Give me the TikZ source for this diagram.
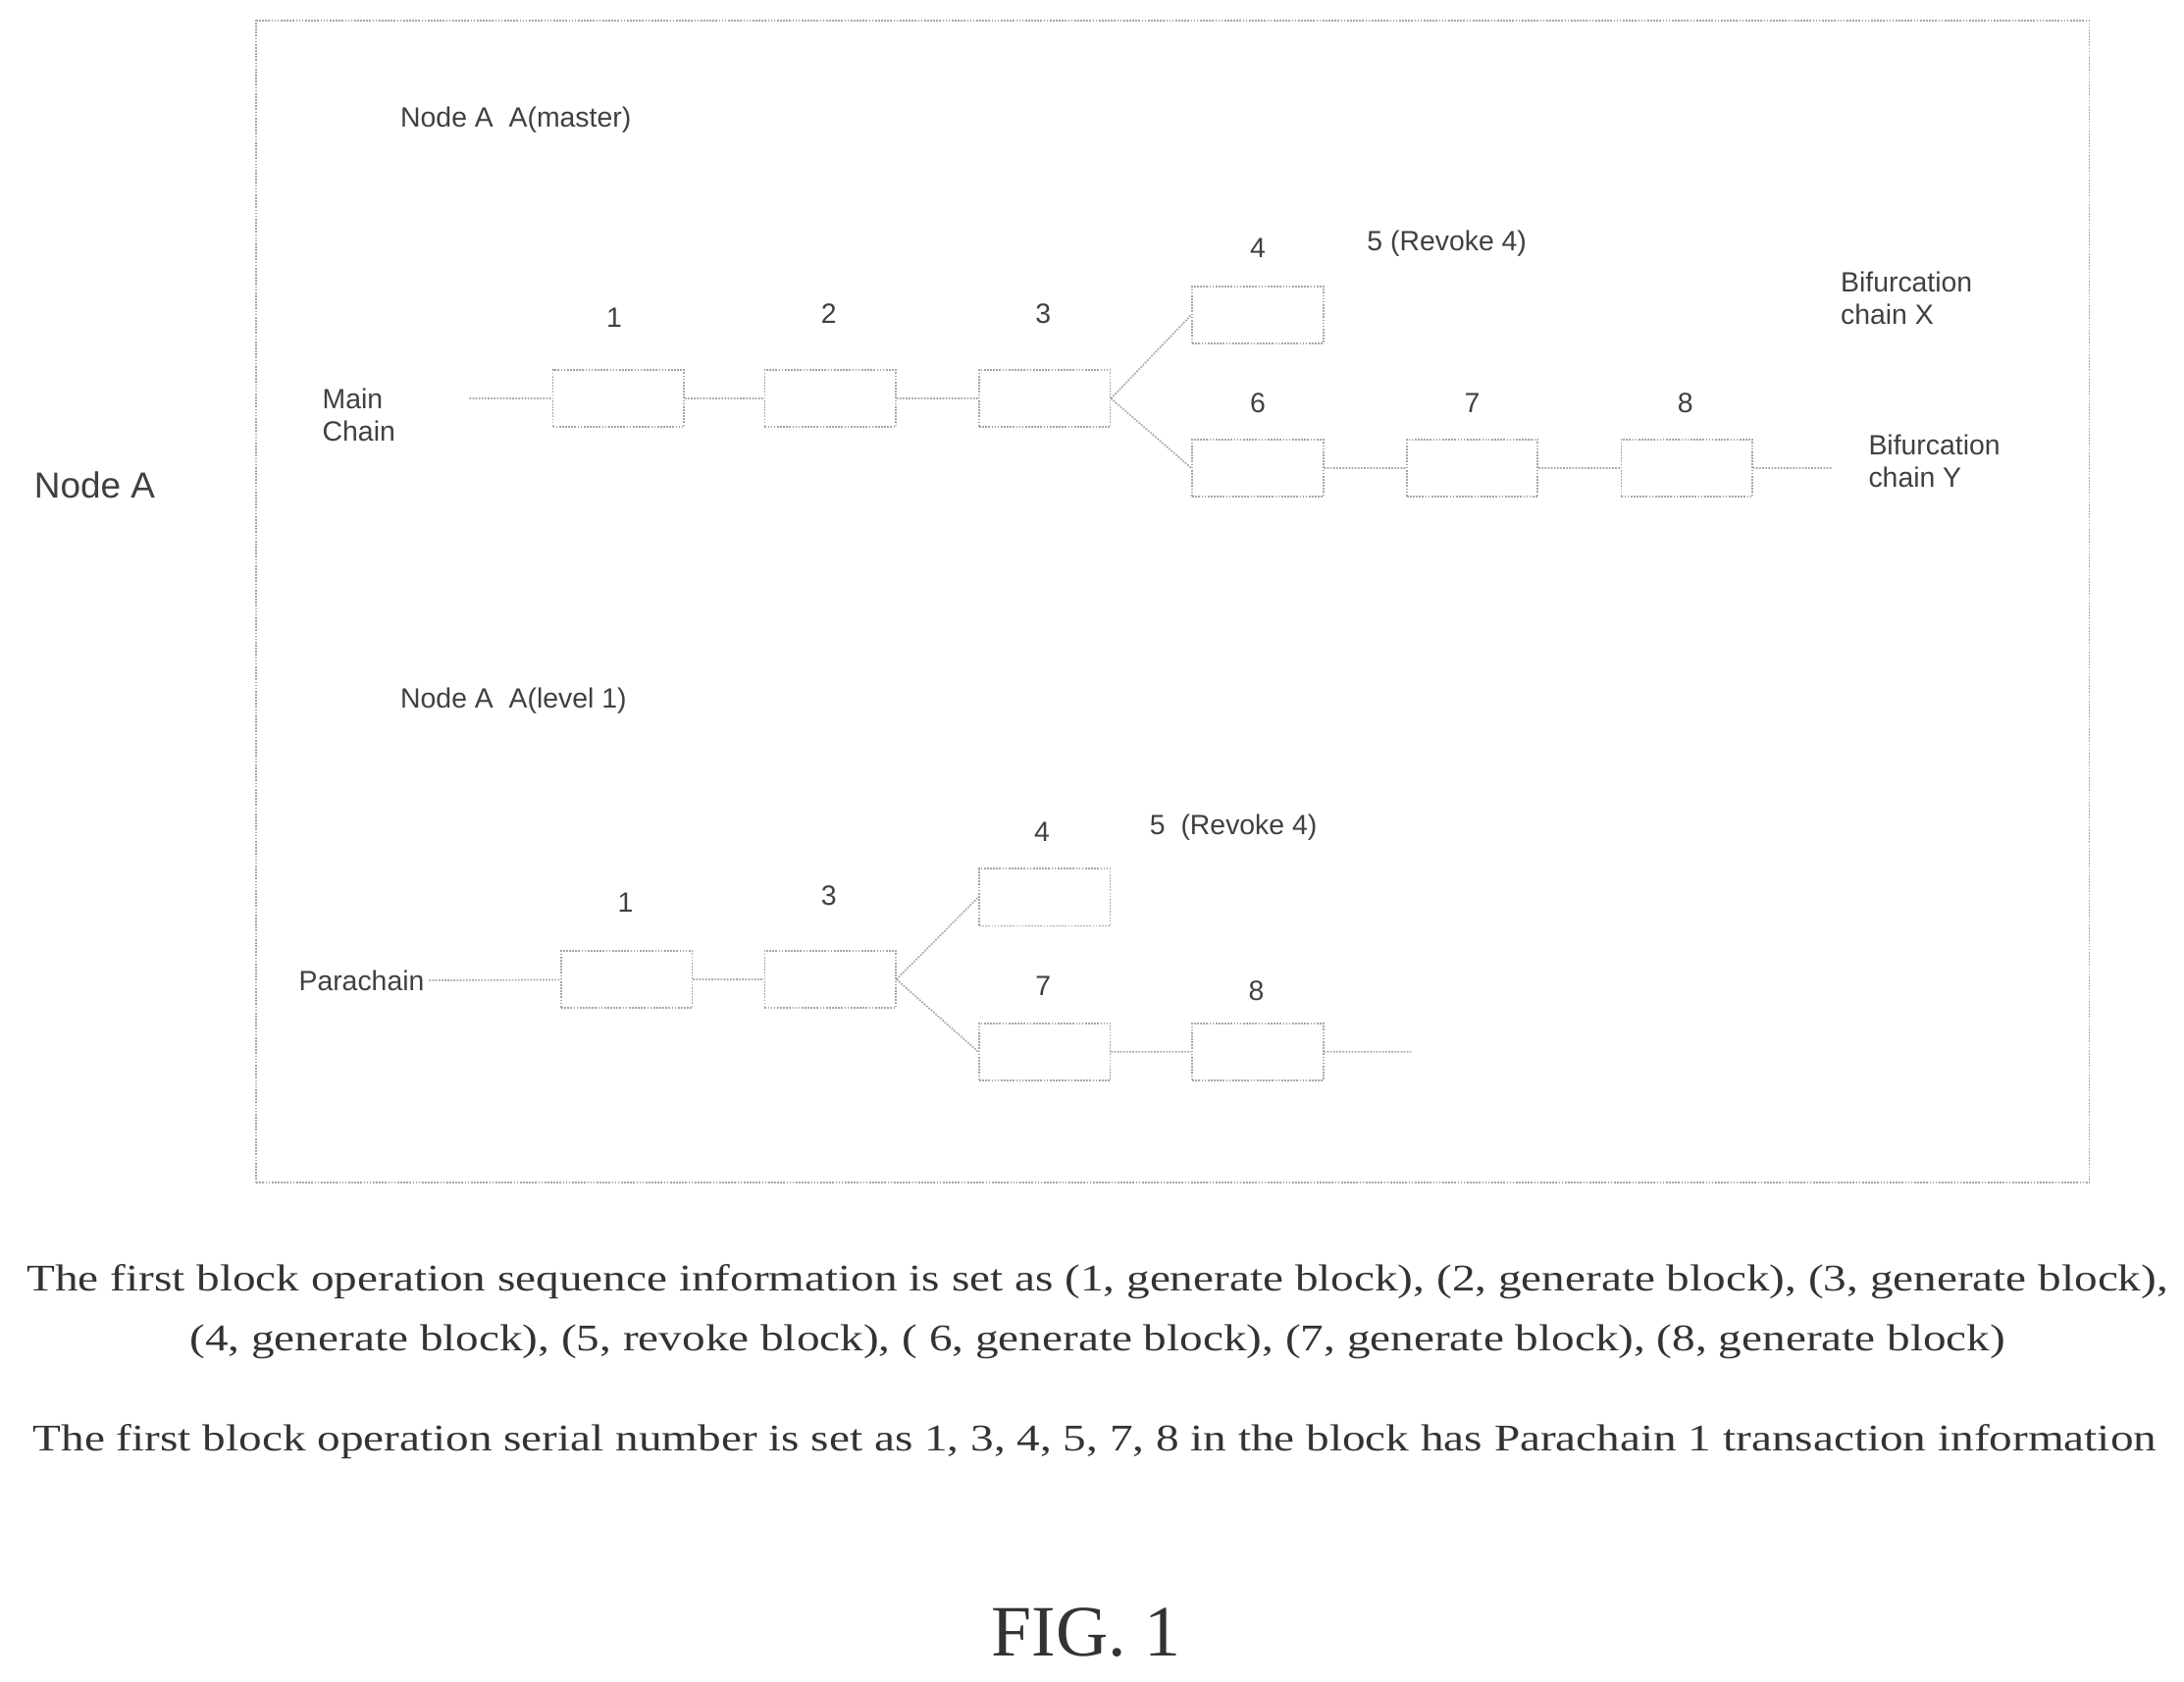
\documentclass[tikz,border=0pt]{standalone}
\usepackage{fontspec}
\usepackage{graphicx}
\setmainfont{Liberation Serif}
\setsansfont{Liberation Sans}
\begin{document}
\begin{tikzpicture}[x=1pt,y=-1pt,
 blk/.style={draw=gray!70,densely dotted,line width=1.2pt,minimum width=94pt,minimum height=41pt,inner sep=0pt},
 con/.style={draw=gray!70,densely dotted,line width=1.2pt},
 lab/.style={font=\sffamily\fontsize{20}{23}\selectfont,text=black!75,align=left},
 captxt/.style={font=\fontsize{25}{29}\selectfont,text=black!80}]
\useasboundingbox (0,0) rectangle (1568,1207);
\node[draw=gray!70,densely dotted,line width=1.2pt,minimum width=1316pt,minimum height=834pt,inner sep=0pt] (frame) at (842,432) {};
\node[lab,font=\sffamily\fontsize{26}{30}\selectfont] (nodeA) at (68,348) {Node A};
% master
\node[lab,anchor=west] (tm) at (284,86) {Node A\ \ A(master)};
\node[lab,anchor=west] (mc) at (228,298) {Main\\Chain};
\coordinate (ms) at (337,286);
\node[blk] (m1) at (444,286) {};
\node[blk] (m2) at (596,286) {};
\node[blk] (m3) at (750,286) {};
\node[blk] (m4) at (903,226) {};
\node[blk] (m6) at (903,336) {};
\node[blk] (m7) at (1057,336) {};
\node[blk] (m8) at (1211,336) {};
\coordinate (me) at (1315,336);
\draw[con] (ms) -- (m1) (m1) -- (m2) (m2) -- (m3) (m3.east) -- (m4.west) (m3.east) -- (m6.west) (m6) -- (m7) (m7) -- (m8) (m8) -- (me);
\node[lab] (l1) at (441,228) {1};
\node[lab] (l2) at (595,225) {2};
\node[lab] (l3) at (749,225) {3};
\node[lab] (l4) at (903,178) {4};
\node[lab,anchor=west] (l5) at (978,175) {5 (Revoke 4)};
\node[lab] (l6) at (903,289) {6};
\node[lab] (l7) at (1057,289) {7};
\node[lab] (l8) at (1210,289) {8};
\node[lab,anchor=west] (bx) at (1318,214) {Bifurcation\\chain X};
\node[lab,anchor=west] (by) at (1338,331) {Bifurcation\\chain Y};
% level 1
\node[lab,anchor=west] (tl) at (284,503) {Node A\ \ A(level 1)};
\node[lab,anchor=west] (pc) at (211,704) {Parachain};
\node[blk] (p1) at (450,703) {};
\node[blk] (p3) at (596,703) {};
\node[blk] (p4) at (750,644) {};
\node[blk] (p7) at (750,755) {};
\node[blk] (p8) at (903,755) {};
\coordinate (pe) at (1013,755);
\draw[con] (pc) -- (p1) (p1) -- (p3) (p3.east) -- (p4.west) (p3.east) -- (p7.west) (p7) -- (p8) (p8) -- (pe);
\node[lab] (q1) at (449,648) {1};
\node[lab] (q3) at (595,643) {3};
\node[lab] (q4) at (748,597) {4};
\node[lab,anchor=west] (q5) at (822,594) {5\ \ (Revoke 4)};
\node[lab] (q7) at (749,708) {7};
\node[lab] (q8) at (902,711) {8};
% captions
\node[captxt] (c1) at (788,920) {\scalebox{1.33}[1.08]{The first block operation sequence information is set as (1, generate block), (2, generate block), (3, generate block),}};
\node[captxt] (c2) at (788,963) {\scalebox{1.33}[1.08]{(4, generate block), (5, revoke block), ( 6, generate block), (7, generate block), (8, generate block)}};
\node[captxt] (c3) at (786,1035) {\scalebox{1.33}[1.08]{The first block operation serial number is set as 1, 3, 4, 5, 7, 8 in the block has Parachain 1 transaction information}};
\node[captxt,font=\fontsize{52}{60}\selectfont] (fig) at (780,1172) {FIG. 1};
\end{tikzpicture}
\end{document}
